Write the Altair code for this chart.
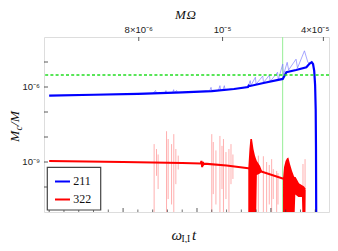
import altair as alt
import pandas as pd

# ---------------- data ----------------
# 211 mode, thick (averaged) curve: (omega t, Mc/M)
blue_thick_pts = [(5.0, 4.5e-7), (8.0, 4.9e-7), (11.0, 5.3e-7), (14.0, 6.1e-7), (16.0, 6.9e-7),
                  (17.5, 8.3e-7), (18.45, 1.0e-6), (18.5, 1.15e-6), (18.6, 1.1e-6), (19.5, 1.45e-6),
                  (20.8, 2.1e-6), (20.95, 3.0e-6), (21.05, 3.9e-6), (21.7, 4.8e-6), (22.4, 6.2e-6),
                  (22.62, 8.7e-6), (22.76, 9.8e-6), (22.85, 8.3e-6), (22.93, 4.4e-6), (22.99, 1.2e-6),
                  (23.03, 1.3e-7), (23.05, 3.3e-9), (23.07, 1e-12)]
# 211 mode, thin (instantaneous) curve
blue_thin_pts = [(5.0, 4.5e-7), (11.0, 5.3e-7), (12.0, 5.5e-7), (12.2, 7.2e-7), (12.25, 5.6e-7),
                 (12.8, 5.7e-7), (12.9, 7.2e-7), (12.95, 5.75e-7), (13.35, 5.9e-7), (13.42, 7.8e-7),
                 (13.47, 5.9e-7), (13.62, 7.2e-7), (13.67, 5.95e-7), (15.85, 6.85e-7), (15.95, 9.7e-7),
                 (16.0, 7.0e-7), (16.45, 7.2e-7), (16.55, 1.13e-6), (16.6, 7.4e-7), (16.75, 7.6e-7),
                 (16.85, 1.13e-6), (16.9, 7.7e-7), (17.5, 8.3e-7), (18.45, 1.0e-6), (18.6, 1.8e-6),
                 (18.65, 1.15e-6), (18.95, 2.45e-6), (19.0, 1.3e-6), (19.45, 2.75e-6), (19.5, 1.5e-6),
                 (19.9, 3.0e-6), (19.95, 1.66e-6), (20.45, 3.9e-6), (20.5, 1.9e-6), (20.8, 8.3e-6),
                 (20.85, 3.0e-6), (21.1, 9.7e-6), (21.2, 4.8e-6), (21.7, 1.3e-5), (21.8, 5.75e-6),
                 (22.27, 2.8e-5), (22.5, 9.7e-6), (22.62, 8.7e-6)]
# 322 mode, thick curve
red_thick_pts = [(5.0, 1.1e-9), (10.0, 1.0e-9), (14.0, 9.1e-10), (15.25, 8.7e-10), (15.3, 1.1e-9),
                 (15.35, 6.3e-10), (15.4, 1.0e-9), (15.45, 8.0e-10), (15.5, 8.6e-10), (17.0, 7.2e-10),
                 (18.47, 5.6e-10), (19.4, 4.1e-10), (20.79, 2.2e-10), (21.63, 2.3e-10), (21.86, 1.3e-10),
                 (22.2, 9.7e-11), (22.31, 7.9e-11)]
# 322 mode, dense oscillation bursts: (t, upper envelope, lower edge)
red_burst1 = [(18.47, 5.6e-10, 1e-12), (18.55, 3.3e-9, 1e-12), (18.61, 8.3e-9, 1e-12),
              (18.72, 8.3e-9, 1e-12), (18.82, 3.3e-9, 1e-12), (18.92, 1.8e-9, 1e-12),
              (18.98, 1.4e-9, 1e-12), (19.05, 1.1e-9, 3e-10), (19.26, 7.1e-10, 3.5e-10),
              (19.4, 4.4e-10, 4.2e-10)]
red_burst2 = [(20.82, 2.2e-10, 1e-12), (20.89, 6.3e-10, 1e-12), (20.99, 1.1e-9, 1e-12),
              (21.09, 1.4e-9, 1e-12), (21.18, 1.5e-9, 1e-12), (21.29, 8.3e-10, 1e-12),
              (21.43, 4.4e-10, 1e-12), (21.55, 2.8e-10, 1e-12), (21.65, 2.2e-10, 5e-11),
              (21.86, 1.3e-10, 4e-11), (22.1, 1.0e-10, 4e-11), (22.18, 9.7e-11, 1e-12),
              (22.31, 7.9e-11, 1e-12), (22.35, 7.5e-11, 7.5e-11)]
# 322 mode, thin curve spikes: (t, top, bottom)
red_spikes = [(12.1, 5.2e-9, 1e-12), (12.26, 3.3e-9, 2.8e-10), (12.37, 2.0e-9, 8.3e-11),
              (12.94, 1.7e-8, 1e-12), (13.05, 8.3e-9, 3.3e-11), (13.28, 5.2e-9, 2e-11),
              (13.43, 1.3e-8, 1e-12), (13.57, 3.3e-9, 1.3e-10), (13.73, 1.8e-9, 5e-10),
              (16.0, 1.3e-8, 1e-12), (16.1, 6.3e-9, 5.2e-11), (16.28, 2.9e-9, 2e-11),
              (16.55, 1.1e-8, 1e-12), (16.69, 4.4e-9, 8.3e-11), (16.79, 8.3e-9, 1e-12),
              (16.96, 2.5e-9, 3.3e-11), (17.16, 3.3e-9, 1e-12), (17.3, 5.2e-9, 1.3e-10),
              (17.43, 2.0e-9, 2.1e-10), (19.15, 1.8e-9, 1e-12), (19.49, 1.7e-9, 1e-12),
              (19.71, 1.0e-9, 1e-12), (19.89, 7.6e-10, 2e-11), (20.05, 1.3e-9, 1e-12),
              (20.16, 5.2e-10, 3.3e-11), (20.39, 4.4e-10, 1e-12), (20.48, 3.6e-10, 2e-11),
              (22.17, 8.3e-10, 1e-12), (22.31, 1.3e-9, 1e-12)]

threshold_value = [3.0e-6]          # dashed green line
marker_time = [20.79]               # light green vertical line

x_major = [5, 10, 15, 20]
x_minor = [6, 7, 8, 9, 11, 12, 13, 14, 16, 17, 18, 19, 21, 22, 23]
y_decades = [1e-10, 1e-9, 1e-8, 1e-7, 1e-6, 1e-5]
y_labelled = [1e-6, 1e-9]
y_label_text = ["10⁻⁶", "10⁻⁹"]
top_tick_t = [11.06, 16.73, 23.55]
top_tick_text = ["8×10⁻⁶", "10⁻⁵", "4×10⁻⁵"]
series_names = ["211", "322"]
series_colors = ["#0000ff", "#ff0000"]

W, H = 285, 175
SANS = "Liberation Sans"
SERIF = "Liberation Serif"

xs = alt.Scale(domain=[4.65, 23.93], nice=False, zero=False)
ys = alt.Scale(type="log", domain=[1e-11, 1e-4], nice=False)


def df_pts(pts):
    return pd.DataFrame({"t": [p[0] for p in pts], "v": [p[1] for p in pts],
                         "i": list(range(len(pts)))})


def df3(pts, g=0):
    return pd.DataFrame({"t": [p[0] for p in pts], "top": [p[1] for p in pts],
                         "bot": [p[2] for p in pts], "g": [g] * len(pts)})


def X(f="t"):
    return alt.X(f"{f}:Q", scale=xs, axis=None)


def Y(f="v"):
    return alt.Y(f"{f}:Q", scale=ys, axis=None)


x_axis = alt.Axis(values=x_major, ticks=False, domain=False, grid=False, title=None,
                  labelFont=SANS, labelFontSize=9.5, labelColor="#222", labelPadding=4,
                  labelFlush=False)

# ticks (inward, drawn as rules)
t_major = alt.Chart(pd.DataFrame({"t": x_major})).mark_rule(color="#333", strokeWidth=0.8).encode(
    x=X(), y=alt.value(H), y2=alt.value(H - 4))
t_minor = alt.Chart(pd.DataFrame({"t": x_minor})).mark_rule(color="#333", strokeWidth=0.7).encode(
    x=X(), y=alt.value(H), y2=alt.value(H - 2.5))
t_top = alt.Chart(pd.DataFrame({"t": top_tick_t})).mark_rule(color="#333", strokeWidth=0.8).encode(
    x=X(), y=alt.value(0), y2=alt.value(4))
t_left = alt.Chart(pd.DataFrame({"v": y_decades})).mark_rule(color="#333", strokeWidth=0.8).encode(
    y=Y(), x=alt.value(0), x2=alt.value(4))

vline = alt.Chart(pd.DataFrame({"t": marker_time})).mark_rule(
    color="#a6f0a6", strokeWidth=1.2).encode(x=X())
hline = alt.Chart(pd.DataFrame({"v": threshold_value})).mark_rule(
    color="#22dd22", strokeWidth=1.5, strokeDash=[3, 2.2]).encode(y=Y())

spikes = alt.Chart(df3(red_spikes)).mark_rule(color="#ff8c8c", strokeWidth=0.7, clip=True).encode(
    x=X(), y=Y("top"), y2="bot:Q")
burst_df = pd.concat([df3(red_burst1, 1), df3(red_burst2, 2)], ignore_index=True)
bursts = alt.Chart(burst_df).mark_area(color="#ff0000", orient="vertical", clip=True).encode(
    x=X(), y=Y("top"), y2="bot:Q", detail="g:N")
red_line = alt.Chart(df_pts(red_thick_pts)).mark_line(
    color=series_colors[1], strokeWidth=2, clip=True).encode(
    x=alt.X("t:Q", scale=xs, axis=x_axis), y=Y(), order="i:Q")
blue_thin = alt.Chart(df_pts(blue_thin_pts)).mark_line(
    color="#7f7fff", strokeWidth=0.7, clip=True).encode(x=X(), y=Y(), order="i:Q")
blue_line = alt.Chart(df_pts(blue_thick_pts)).mark_line(
    color=series_colors[0], strokeWidth=2.2, clip=True).encode(x=X(), y=Y(), order="i:Q")

# y tick labels (left) and top axis labels
y_lab = alt.Chart(pd.DataFrame({"v": y_labelled, "s": y_label_text})).mark_text(
    font=SANS, fontSize=9.5, color="#222", baseline="middle", align="right").encode(
    y=Y(), x=alt.value(-4), text="s:N")
top_df = pd.DataFrame({"t": top_tick_t, "s": top_tick_text})
top_labels = alt.Chart(top_df.iloc[:-1]).mark_text(
    font=SANS, fontSize=9.5, color="#222", baseline="alphabetic", align="center").encode(
    x=X(), y=alt.value(-4), text="s:N")
top_label_last = alt.Chart(top_df.iloc[-1:]).mark_text(
    font=SANS, fontSize=9.5, color="#222", baseline="alphabetic", align="right", dx=6).encode(
    x=X(), y=alt.value(-4), text="s:N")
one = pd.DataFrame({"a": [0]})


def txt(s, x, y, size, angle=0, style="italic", align="left"):
    return alt.Chart(one).mark_text(text=s, font=SERIF, fontSize=size, fontStyle=style,
                                    color="#111", angle=angle, align=align,
                                    baseline="alphabetic").encode(x=alt.value(x), y=alt.value(y))


top_title = alt.layer(txt("M", 131, -18, 13), txt("Ω", 142.5, -18, 13))
y_title = alt.layer(txt("M", -25, 105, 13.5, angle=270), txt("c", -22, 93.5, 10, angle=270),
                    txt("/M", -25, 89, 13.5, angle=270))
x_title = alt.layer(txt("ω", 127.5, 203, 15), txt("I,I", 137.5, 204.5, 9.5, style="normal"),
                    txt("t", 148, 203, 15))

# legend box
leg_box = alt.Chart(one).mark_rect(fill="white", stroke="#444", strokeWidth=1.2).encode(
    x=alt.value(3.3), x2=alt.value(56.7), y=alt.value(130.3), y2=alt.value(173))
leg_items = []
for k, (name, col) in enumerate(zip(series_names, series_colors)):
    yy = 144.5 + k * 18
    leg_items.append(alt.Chart(one).mark_rule(color=col, strokeWidth=2).encode(
        x=alt.value(11), x2=alt.value(26), y=alt.value(yy)))
    leg_items.append(alt.Chart(one).mark_text(text=name, font=SERIF, fontSize=12, color="#111",
                                              align="left", baseline="alphabetic").encode(
        x=alt.value(29.3), y=alt.value(yy + 3.5)))

chart = alt.layer(
    vline, spikes, bursts, red_line, blue_thin, blue_line, hline,
    t_major, t_minor, t_top, t_left, y_lab, top_labels, top_label_last,
    top_title, y_title, x_title, leg_box, *leg_items
).properties(
    width=W, height=H,
    autosize=alt.AutoSizeParams(type="none"),
    padding={"left": 36, "top": 29, "right": 1, "bottom": 31},
).configure_view(stroke="#333", strokeWidth=1).configure(background="white")

chart.save("out.html", embed_options={"renderer": "svg", "actions": False})
